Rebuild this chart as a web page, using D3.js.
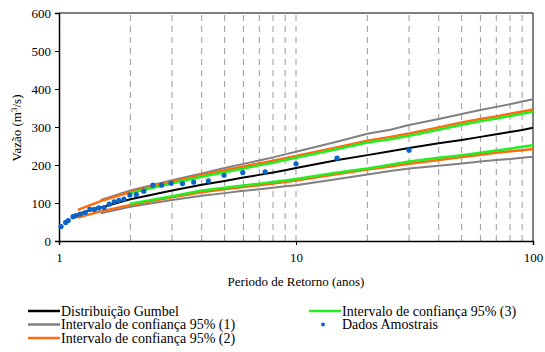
<!DOCTYPE html>
<html>
<head>
<meta charset="utf-8">
<script src="https://cdn.jsdelivr.net/npm/d3@7"></script>
<style>
  body { margin: 0; background: #fff; }
  svg text { font-family: "Liberation Serif", Tinos, "Nimbus Roman", "Times New Roman", Times, "DejaVu Serif", serif; fill: #000; }
</style>
</head>
<body>
<div id="chart"></div>
<script>
// return periods used for the curves
const periods = [1.2, 1.5, 2, 3, 4, 5, 6, 7, 8, 9, 10, 15, 20, 25, 30, 40, 50, 60, 70, 80, 90, 100];

// Gumbel fit
const gumbel = [71, 88, 110, 133, 148, 158, 167, 174, 180, 186, 192, 213, 226, 236, 245, 257, 266, 274, 281, 287, 292, 298];
// confidence interval (1) - starts at T = 1.5
const ci1Upper = [null, 108, 133, 160, 178, 192, 203, 212, 220, 228, 235, 262, 282, 293, 305, 321, 334, 345, 353, 360, 367, 373];
const ci1Lower = [null, 73, 90, 108, 119, 126, 132, 136, 140, 144, 147, 163, 175, 184, 191, 198, 204, 209, 213, 216, 219, 222];
// confidence interval (2)
const ci2Upper = [82, 105, 129, 156, 174, 186, 196, 204, 211, 218, 224, 247, 264, 274, 283, 299, 312, 321, 328, 335, 341, 346];
const ci2Lower = [62, 78, 95, 115, 128, 136, 142, 147, 151, 155, 159, 176, 188, 196, 203, 213, 221, 227, 232, 236, 239, 242];
// confidence interval (3) - starts at T = 2
const ci3Upper = [null, null, 126, 152, 169, 181, 191, 199, 206, 213, 219, 242, 259, 268, 277, 293, 306, 315, 322, 329, 335, 340];
const ci3Lower = [null, null, 98, 118, 133, 140, 146, 151, 155, 159, 163, 180, 191, 201, 209, 219, 226, 232, 238, 243, 248, 252];

// sample data (return period, discharge)
const sampleT = [1.02, 1.067, 1.094, 1.146, 1.18, 1.23, 1.29, 1.35, 1.41, 1.47, 1.55, 1.63, 1.71, 1.79, 1.88, 1.99,
  2.12, 2.28, 2.49, 2.71, 2.97, 3.32, 3.7, 4.27, 4.97, 5.96, 7.41, 10, 14.9, 30];
const sampleQ = [38, 49, 54, 64, 67, 71, 75, 83, 83, 87, 88, 97, 103, 107, 110, 121,
  122, 131, 147, 147, 152, 151, 155, 158, 173, 180, 182, 203, 218, 239];

const yTicks = [0, 100, 200, 300, 400, 500, 600];
const xLabels = [1, 10, 100];
const gridT = [2, 3, 4, 5, 6, 7, 8, 9, 10, 20, 30, 40, 50, 60, 70, 80, 90];

const width = 545, height = 352;
const serif = '"Liberation Serif", Tinos, "Nimbus Roman", "Times New Roman", Times, "DejaVu Serif", serif';

const svg = d3.select("#chart")
  .append("svg")
  .attr("width", width)
  .attr("height", height)
  .attr("font-family", serif);

const x = d3.scaleLog().domain([1, 100]).range([59, 533]);
const y = d3.scaleLinear().domain([0, 600]).range([241, 13]);

// vertical dashed grid
svg.selectAll(".grid")
  .data(gridT)
  .enter()
  .append("line")
  .attr("x1", d => x(d))
  .attr("x2", d => x(d))
  .attr("y1", y(0))
  .attr("y2", y(600))
  .attr("stroke", "#999")
  .attr("stroke-width", 1)
  .attr("stroke-dasharray", "6,5");

// frame (top and right)
svg.append("path")
  .attr("d", `M${x(1)},${y(600)}H${x(100)}V${y(0)}`)
  .attr("fill", "none")
  .attr("stroke", "#000")
  .attr("stroke-width", 1);

// axes
const yAxis = svg.append("g")
  .attr("transform", `translate(${x(1)},0)`)
  .call(d3.axisLeft(y).tickValues(yTicks).tickSize(4).tickPadding(4));
const xAxis = svg.append("g")
  .attr("transform", `translate(0,${y(0)})`)
  .call(d3.axisBottom(x).tickValues(xLabels).tickFormat(d3.format("d")).tickSize(4).tickPadding(8));

[yAxis, xAxis].forEach(g => {
  g.attr("font-family", serif);
  g.select(".domain").attr("stroke", "#000").attr("stroke-width", 1.5);
  g.selectAll(".tick line").attr("stroke", "#000");
  g.selectAll("text")
    .style("font-family", serif)
    .style("font-size", "13px")
    .attr("fill", "#000");
});

// curves
const series = [
  { values: gumbel, color: "#000000", w: 2 },
  { values: ci1Upper, color: "#808080", w: 2 },
  { values: ci1Lower, color: "#808080", w: 2 },
  { values: ci2Upper, color: "#ff6a10", w: 2.5 },
  { values: ci2Lower, color: "#ff6a10", w: 2.5 },
  { values: ci3Upper, color: "#22ee22", w: 2.5 },
  { values: ci3Lower, color: "#22ee22", w: 2.5 }
];

const line = d3.line()
  .defined(d => d[1] != null)
  .x(d => x(d[0]))
  .y(d => y(d[1]));

series.forEach(s => {
  svg.append("path")
    .datum(periods.map((t, i) => [t, s.values[i]]))
    .attr("d", line)
    .attr("fill", "none")
    .attr("stroke", s.color)
    .attr("stroke-width", s.w);
});

// sample points
svg.selectAll(".dot")
  .data(sampleT.map((t, i) => [t, sampleQ[i]]))
  .enter()
  .append("circle")
  .attr("cx", d => x(d[0]))
  .attr("cy", d => y(d[1]))
  .attr("r", 2.6)
  .attr("fill", "#0a64c8");

// axis titles
const yTitle = svg.append("text")
  .attr("transform", `translate(21,128) rotate(-90)`)
  .attr("text-anchor", "middle")
  .style("font-size", "13px");
yTitle.append("tspan").text("Vazão (m");
yTitle.append("tspan").attr("dy", -4).style("font-size", "9px").text("3");
yTitle.append("tspan").attr("dy", 4).text("/s)");

svg.append("text")
  .attr("x", 296)
  .attr("y", 286)
  .attr("text-anchor", "middle")
  .style("font-size", "13px")
  .text("Periodo de Retorno (anos)");

// legend
const legend = [
  { label: "Distribuição Gumbel", color: "#000000", type: "line", lx: 28, ly: 311 },
  { label: "Intervalo de confiança 95% (1)", color: "#808080", type: "line", lx: 28, ly: 324.5 },
  { label: "Intervalo de confiança 95% (2)", color: "#ff6a10", type: "line", lx: 28, ly: 338 },
  { label: "Intervalo de confiança 95% (3)", color: "#22ee22", type: "line", lx: 309, ly: 311 },
  { label: "Dados Amostrais", color: "#0a64c8", type: "dot", lx: 309, ly: 324.5 }
];

const lg = svg.selectAll(".legend")
  .data(legend)
  .enter()
  .append("g")
  .attr("transform", d => `translate(${d.lx},${d.ly})`);

lg.filter(d => d.type === "line")
  .append("line")
  .attr("x1", 0).attr("x2", 32)
  .attr("stroke", d => d.color)
  .attr("stroke-width", 2.5);

lg.filter(d => d.type === "dot")
  .append("circle")
  .attr("cx", 14).attr("r", 2)
  .attr("fill", d => d.color);

lg.append("text")
  .attr("x", 33)
  .attr("dy", "0.35em")
  .style("font-size", "14px")
  .text(d => d.label);
</script>
</body>
</html>
